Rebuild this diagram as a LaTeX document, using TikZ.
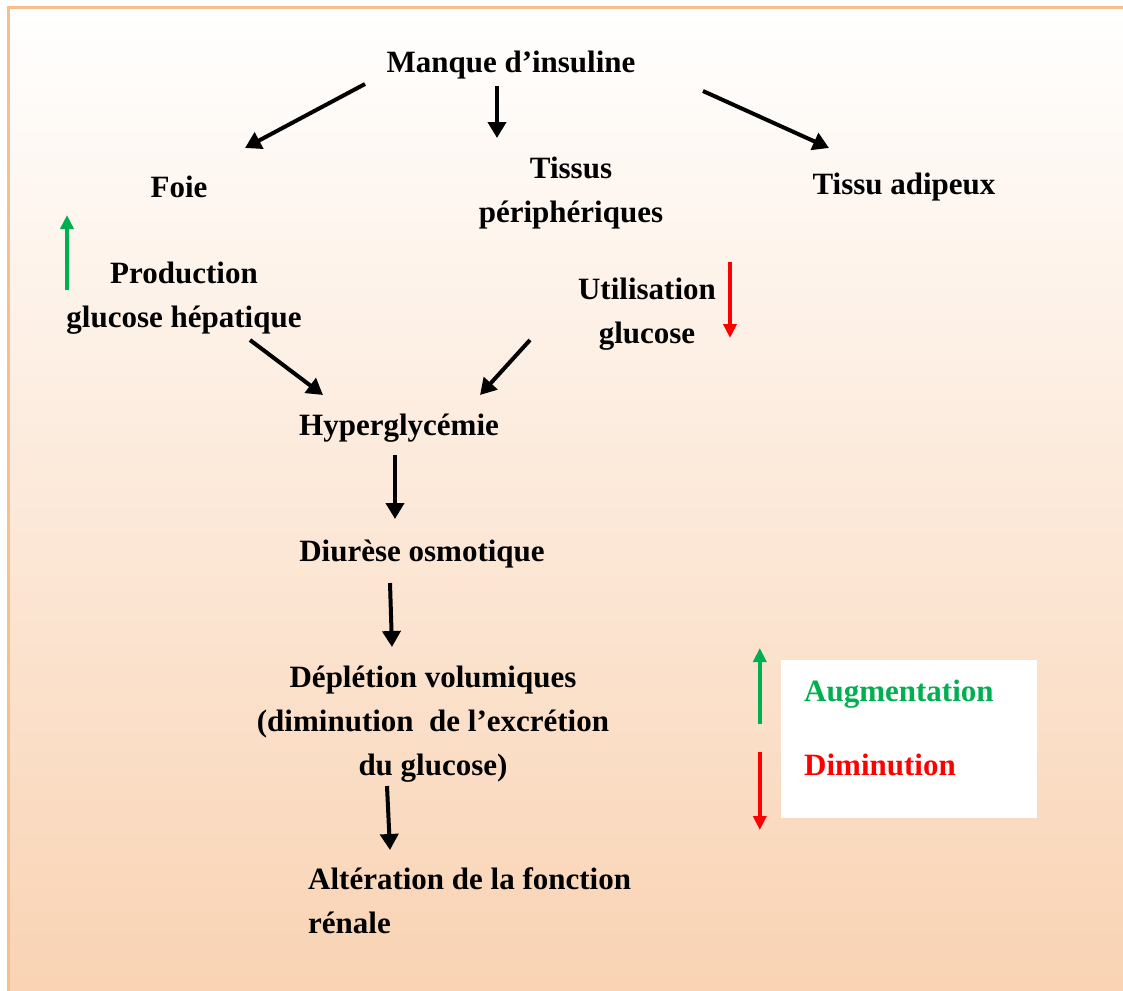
\documentclass[tikz,border=0pt]{standalone}
\usepackage{fontspec}
\setmainfont{Liberation Serif}
\usetikzlibrary{arrows.meta,calc}

\definecolor{peach}{RGB}{249,210,178}
\definecolor{frameorange}{RGB}{248,190,142}
\definecolor{upgreen}{RGB}{0,176,80}
\definecolor{downred}{RGB}{255,0,0}

\begin{document}
\begin{tikzpicture}[x=1pt,y=-1pt,
        txt/.style={font=\fontsize{31}{44}\selectfont\bfseries, align=center, inner sep=0pt},
        link/.style={line width=4pt, -{Triangle[length=16pt,width=18pt]}},
        uparrow/.style={upgreen, line width=3.5pt, -{Triangle[length=14pt,width=13pt]}},
        downarrow/.style={downred, line width=3.5pt, -{Triangle[length=14pt,width=13pt]}}]
        \useasboundingbox (0,0) rectangle (1123,990);
        % background and frame
        \begin{scope}
        \clip (0,0) rectangle (1123,990);
        \shade [top color=white, bottom color=peach] (8,8) rectangle (1140,1010);
        \draw [frameorange, line width=3pt] (8,8) rectangle (1140,1010);
        \end{scope}
        % nodes
        \node [txt] (manque) at (511,65) {Manque d'insuline};
        \node [txt] (foie) at (179,187) {Foie};
        \node [txt] (tissus) at (571,193) {Tissus\\périphériques};
        \node [txt] (adipeux) at (904,187) {Tissu adipeux};
        \node [txt] (prod) at (184,298) {Production\\glucose hépatique};
        \node [txt] (util) at (647,314) {Utilisation\\glucose};
        \node [txt] (hyper) at (399,428) {Hyperglycémie};
        \node [txt] (diur) at (422,554) {Diurèse osmotique};
        \node [txt] (deple) at (433,724) {Déplétion volumiques\\(diminution~ de l'excrétion\\du glucose)};
        \node [txt, align=left, anchor=west] (alter) at (308,901) {Altération de la fonction\\rénale};
        % connectors
        \draw [link] ($(manque)+(-146,19)$) -- ($(foie)+(66,-39)$);
        \draw [link] ($(manque)+(-14,21)$) -- ($(tissus)+(-74,-55)$);
        \draw [link] ($(manque)+(192,26)$) -- ($(adipeux)+(-75,-39)$);
        \draw [link] ($(prod)+(66,42)$) -- ($(hyper)+(-76,-33)$);
        \draw [link] ($(util)+(-117,26)$) -- ($(hyper)+(81,-33)$);
        \draw [link] ($(hyper)+(-4,27)$) -- ($(diur)+(-27,-35)$);
        \draw [link] ($(diur)+(-32,29)$) -- ($(deple)+(-41,-77)$);
        \draw [link] ($(deple)+(-46,62)$) -- ($(alter.west)+(82,-51)$);
        % up / down marks
        \draw [uparrow] ($(prod)+(-117,-8)$) -- ($(prod)+(-117,-83)$);
        \draw [downarrow] ($(util)+(83,-52)$) -- ($(util)+(83,24)$);
        % legend
        \node [fill=white, minimum width=256pt, minimum height=158pt, inner sep=0pt] (legend) at (909,739) {};
        \node [txt, anchor=west, text=upgreen] (aug) at (804,694) {Augmentation};
        \node [txt, anchor=west, text=downred] (dim) at (804,765) {Diminution};
        \draw [uparrow] ($(legend.west)+(-21,-15)$) -- ($(legend.west)+(-21,-91)$);
        \draw [downarrow] ($(legend.west)+(-21,13)$) -- ($(legend.west)+(-21,91)$);
\end{tikzpicture}
\end{document}
